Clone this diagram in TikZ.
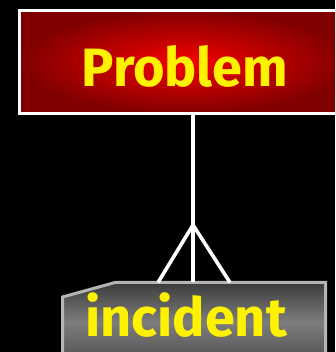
\documentclass[tikz,border=0pt]{standalone}
\usepackage{fontspec}
\setmainfont{Fira Sans}
\begin{document}
\begin{tikzpicture}[x=1pt,y=1pt,
  lbl/.style={text=yellow,font=\bfseries\fontsize{54}{60}\selectfont,inner sep=0pt},
  link/.style={draw=white,line width=3.6pt}]
\useasboundingbox (0,0) rectangle (335,352);
\fill[black] (0,0) rectangle (335,352);
\clip (0,0) rectangle (335,352);
% Problem box
\node[draw=white,line width=3pt,minimum width=332pt,minimum height=103pt,inner sep=0pt,
  inner color={rgb,255:red,245;green,0;blue,0},outer color={rgb,255:red,128;green,0;blue,0}]
  (prob) at (185,290) {};
\node[lbl,anchor=base] (probtext) at (185,265) {Problem};
% incident box
\definecolor{gborder}{RGB}{180,180,180}
\path[draw=gborder,line width=3pt,top color={rgb,255:red,60;green,60;blue,60},
  bottom color={rgb,255:red,80;green,80;blue,80},middle color={rgb,255:red,125;green,125;blue,125}]
  (62.5,55) -- (115,69.5) -- (325.5,69.5) -- (325.5,-10) -- (62.5,-10) -- cycle;
\coordinate (inctop) at (193,69.5);
\coordinate (footL) at (158,69.5);
\coordinate (footR) at (230,69.5);
\node[lbl,anchor=base] (inc) at (186,15) {incident};
% connector
\coordinate (apex) at (193,127);
\draw[link] (prob.south -| inctop) -- (inctop);
\draw[link] (footL) -- (apex) -- (footR);
\end{tikzpicture}
\end{document}
